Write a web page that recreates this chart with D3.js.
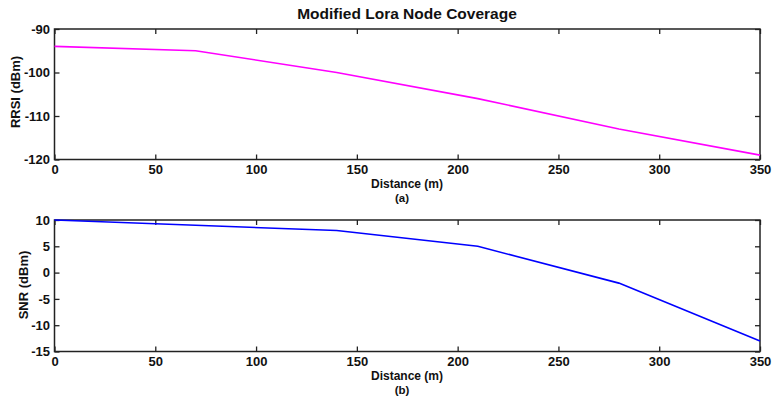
<!DOCTYPE html>
<html><head><meta charset="utf-8">
<script src="https://cdn.jsdelivr.net/npm/d3@7"></script>
<style>
body{margin:0;background:#fff;}
text{font-family:"Liberation Sans",Arial,sans-serif;font-weight:bold;fill:#111;}
</style></head>
<body><svg id="c" width="772" height="400"></svg>
<script>
const distance = [0, 70, 140, 210, 280, 350];
const rssi = [-94, -95, -100, -106, -113, -119];
const snr = [10, 9, 8, 5, -2, -13];
const xTicks = [0, 50, 100, 150, 200, 250, 300, 350];
const rssiTicks = [-120, -110, -100, -90];
const snrTicks = [-15, -10, -5, 0, 5, 10];

const svg = d3.select("#c");
const left = 54.5, right = 760;
const x = d3.scaleLinear().domain([0, 350]).range([left, right]);
const fmt = d => String(d);

svg.append("text").attr("x", 407).attr("y", 19).attr("text-anchor", "middle")
  .style("font-size", "15.5px").text("Modified Lora Node Coverage");

function panel(top, bottom, yDomain, yTicks, data, color, ylab, sub) {
  const y = d3.scaleLinear().domain(yDomain).range([bottom, top]);
  const g = svg.append("g");
  const ax = g.append("g").attr("transform", `translate(0,${bottom})`)
    .call(d3.axisBottom(x).tickValues(xTicks).tickSizeInner(-5).tickSizeOuter(0).tickPadding(5).tickFormat(fmt));
  const axt = g.append("g").attr("transform", `translate(0,${top})`)
    .call(d3.axisTop(x).tickValues(xTicks).tickSizeInner(-5).tickSizeOuter(0).tickFormat(""));
  const ay = g.append("g").attr("transform", `translate(${left},0)`)
    .call(d3.axisLeft(y).tickValues(yTicks).tickSizeInner(-5).tickSizeOuter(0).tickPadding(4.5).tickFormat(fmt));
  const ayr = g.append("g").attr("transform", `translate(${right},0)`)
    .call(d3.axisRight(y).tickValues(yTicks).tickSizeInner(-5).tickSizeOuter(0).tickFormat(""));
  [ax, axt, ay, ayr].forEach(a => {
    a.select(".domain").remove();
    a.selectAll("line").attr("stroke", "#222").attr("stroke-width", 1.3);
    a.selectAll("text").style("font-size", "13px").attr("fill", "#111");
  });
  g.append("rect").attr("x", left).attr("y", top).attr("width", right - left).attr("height", bottom - top)
    .attr("fill", "none").attr("stroke", "#222").attr("stroke-width", 1.5);
  const line = d3.line().x((d, i) => x(distance[i])).y(d => y(d));
  g.append("path").datum(data).attr("d", line).attr("fill", "none")
    .attr("stroke", color).attr("stroke-width", 1.6);
  g.append("text").attr("x", 407).attr("y", bottom + 28.5).attr("text-anchor", "middle")
    .style("font-size", "12px").text("Distance (m)");
  g.append("text").attr("x", 402).attr("y", bottom + 42.5).attr("text-anchor", "middle")
    .style("font-size", "11.5px").text(sub);
  g.append("text").attr("transform", `translate(${ylab.x},${ylab.cy}) rotate(-90)`)
    .attr("text-anchor", "middle").style("font-size", "13px").text(ylab.t);
}

panel(29, 159.5, [-120, -90], rssiTicks, rssi, "#ff00ff", {x: 20, cy: 92, t: "RRSI (dBm)"}, "(a)");
panel(220, 351.5, [-15, 10], snrTicks, snr, "#0000ff", {x: 28, cy: 285, t: "SNR (dBm)"}, "(b)");
</script></body></html>
